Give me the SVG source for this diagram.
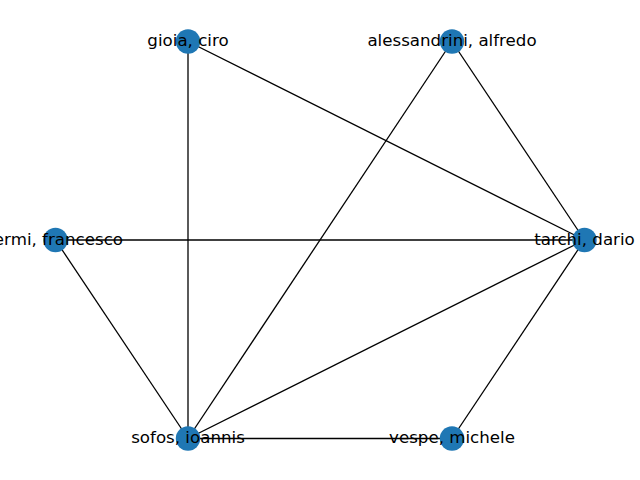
<svg xmlns="http://www.w3.org/2000/svg" width="640" height="480" viewBox="0 0 640 480">
<style>
.e{stroke:#000;stroke-width:1.3;fill:none}
.n{fill:#1f77b4}
.t{font-family:"DejaVu Sans",sans-serif;font-size:16.67px;fill:#000;text-anchor:middle}
</style>
<rect width="640" height="480" fill="#fff"/>
<g id="connectors">
<line class="e" x1="188" y1="41.5" x2="584.5" y2="240"/>
<line class="e" x1="188" y1="41.5" x2="188" y2="438.5"/>
<line class="e" x1="452" y1="41.5" x2="584.5" y2="240"/>
<line class="e" x1="452" y1="41.5" x2="188" y2="438.5"/>
<line class="e" x1="55.5" y1="240" x2="584.5" y2="240"/>
<line class="e" x1="55.5" y1="240" x2="188" y2="438.5"/>
<line class="e" x1="584.5" y1="240" x2="188" y2="438.5"/>
<line class="e" x1="584.5" y1="240" x2="452" y2="438.5"/>
<line class="e" x1="188" y1="438.5" x2="452" y2="438.5"/>
</g>
<g id="gioia"><circle class="n" cx="188" cy="41.5" r="12.2"/><text class="t" x="188" y="46">gioia, ciro</text></g>
<g id="alessandrini"><circle class="n" cx="452" cy="41.5" r="12.2"/><text class="t" x="452" y="46">alessandrini, alfredo</text></g>
<g id="fermi"><circle class="n" cx="55.5" cy="240" r="12.2"/><text class="t" x="55.5" y="244.5">fermi, francesco</text></g>
<g id="tarchi"><circle class="n" cx="584.5" cy="240" r="12.2"/><text class="t" x="584.5" y="244.5">tarchi, dario</text></g>
<g id="sofos"><circle class="n" cx="188" cy="438.5" r="12.2"/><text class="t" x="188" y="443">sofos, ioannis</text></g>
<g id="vespe"><circle class="n" cx="452" cy="438.5" r="12.2"/><text class="t" x="452" y="443">vespe, michele</text></g>
</svg>
